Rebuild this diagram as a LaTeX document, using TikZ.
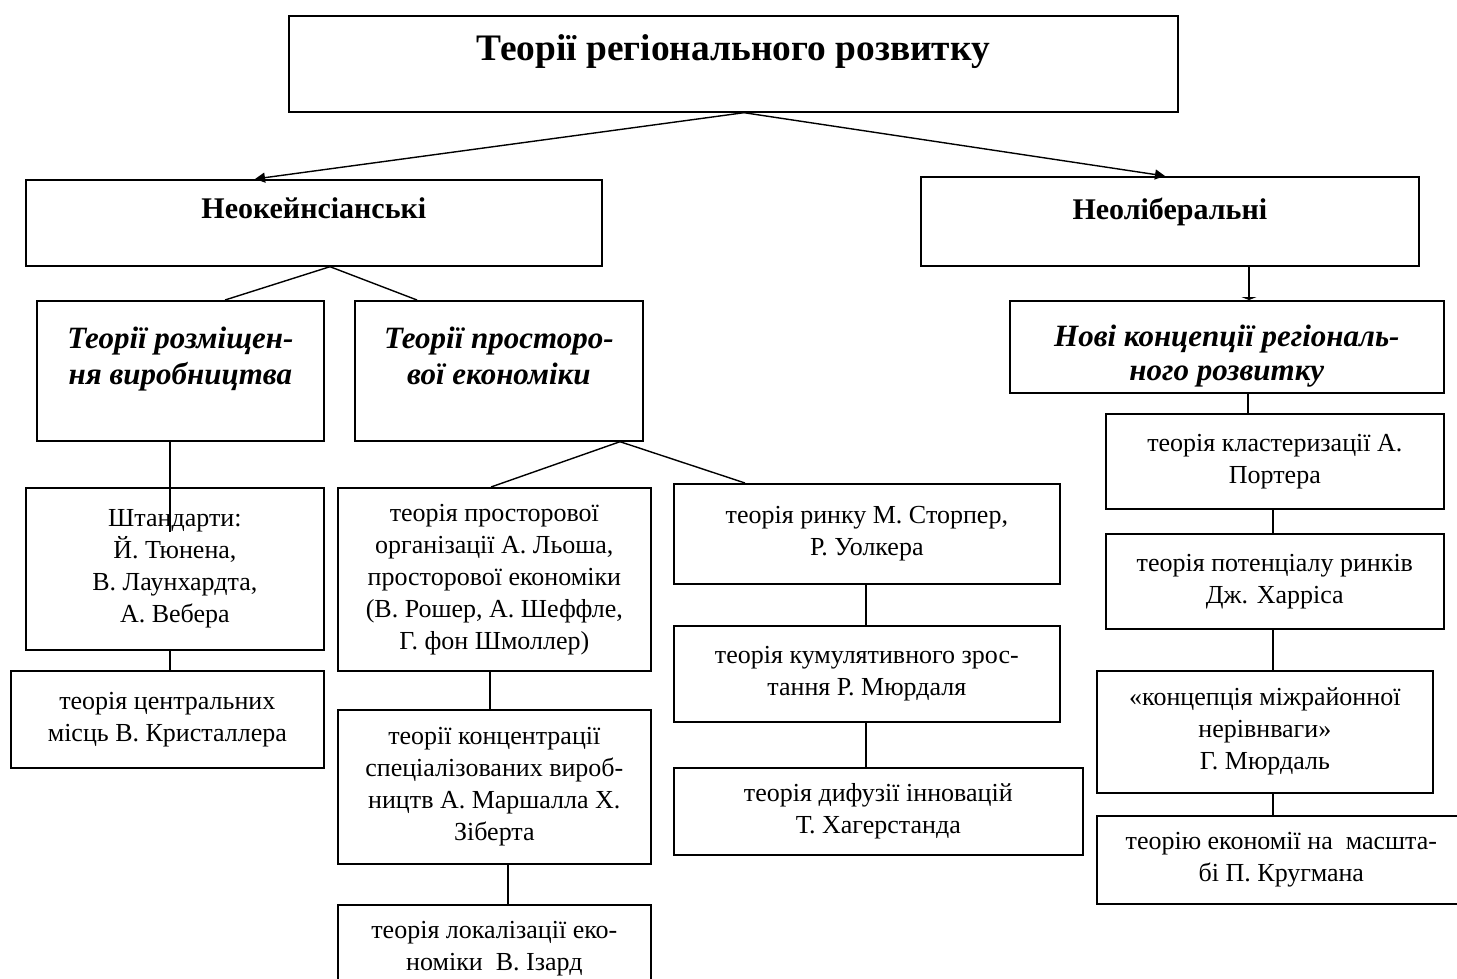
\documentclass[tikz,border=0pt]{standalone}
\usepackage{fontspec}
\setmainfont{Liberation Serif}
\usetikzlibrary{arrows.meta}
\def\pxu{0.5pt}
\tikzset{
  box/.style={draw, line width=0.85pt, anchor=north west, inner sep=0pt, align=center,
    font=\fontsize{13}{16}\selectfont},
  headbox/.style={box, font=\fontsize{15}{17}\selectfont\bfseries},
  itbox/.style={box, font=\fontsize{15.5}{18}\selectfont\bfseries\itshape},
  link/.style={line width=0.7pt},
  arrow/.style={link, -{Triangle[length=5pt,width=5pt]}},
  bararrow/.style={link, -{Triangle[length=1.5pt,width=7.5pt]}},
}
\begin{document}
\begin{tikzpicture}[x=\pxu, y=-\pxu]
\clip (0,0) rectangle (1457,979);
% headings
\node[headbox, font=\fontsize{18.7}{22}\selectfont\bfseries, minimum width=444.5pt, text height=22.5pt, text depth=25.5pt] (title) at (288,15) {Теорії регіонального розвитку};
\node[headbox, minimum width=288pt, text height=19.5pt, text depth=23.5pt] (neok) at (25,179) {Неокейнсіанські};
\node[headbox, minimum width=249pt, text height=21.5pt, text depth=23pt] (neol) at (920,176) {Неоліберальні};
\node[itbox, minimum width=143.5pt, text height=42pt, text depth=28pt] (rozm) at (36,300) {Теорії розміщен-\\ня виробництва};
\node[itbox, minimum width=144pt, text height=42pt, text depth=28pt] (prost) at (354,300) {Теорії просторо-\\вої економіки};
\node[itbox, font=\fontsize{15.5}{17}\selectfont\bfseries\itshape, minimum width=217pt, text height=40pt, text depth=6pt] (nov) at (1009,300) {Нові концепції регіональ-\\ного розвитку};
% left branch
\node[box, minimum width=149pt, minimum height=81pt] (shtand) at (25,487) {Штандарти:\\Й. Тюнена,\\В. Лаунхардта,\\А. Вебера};
\node[box, minimum width=156.5pt, minimum height=48.5pt] (centr) at (10,670) {теорія центральних\\місць В. Кристаллера};
\node[box, minimum width=156.5pt, minimum height=91.5pt] (org) at (337,487) {теорія просторової\\організації А. Льоша,\\просторової економіки\\(В. Рошер, А. Шеффле,\\Г. фон Шмоллер)};
\node[box, minimum width=156.5pt, minimum height=77pt] (konc) at (337,709) {теорії концентрації\\спеціалізованих вироб-\\ництв А. Маршалла Х.\\Зіберта};
\node[box, minimum width=156.5pt, minimum height=44pt] (lokal) at (337,904) {теорія локалізації еко-\\номіки \ В. Ізард};
\node[box, minimum width=193pt, minimum height=50pt] (rynok) at (673,483) {теорія ринку М. Сторпер,\\Р. Уолкера};
\node[box, minimum width=193pt, minimum height=48pt] (kumul) at (673,625) {теорія кумулятивного зрос-\\тання Р. Мюрдаля};
\node[box, minimum width=204.5pt, minimum height=43.5pt] (dyf) at (673,767) {теорія дифузії інновацій\\Т. Хагерстанда};
% right branch
\node[box, minimum width=169pt, minimum height=47.5pt] (klast) at (1105,413) {теорія кластеризації А.\\Портера};
\node[box, minimum width=169pt, minimum height=47.5pt] (poten) at (1105,533) {теорія потенціалу ринків\\Дж. Харріса};
\node[box, minimum width=168pt, minimum height=61pt] (mizh) at (1096,670) {«концепція міжрайонної\\нерівнваги»\\Г. Мюрдаль};
\node[box, minimum width=184.5pt, minimum height=44pt] (masht) at (1096,815) {теорію економії на \ масшта-\\бі П. Кругмана};
\coordinate (shtandmark) at (170,532);
% connectors
\draw[arrow] (744,0 |- title.south) -- (255,0 |- neok.north);
\draw[arrow] (744,0 |- title.south) -- (1165,0 |- neol.north);
\draw[bararrow] (1249,0 |- neol.south) -- (1249,0 |- nov.north);
\draw[link] (330,0 |- neok.south) -- (225,0 |- rozm.north);
\draw[link] (330,0 |- neok.south) -- (417,0 |- prost.north);
\draw[link] (170,0 |- rozm.south) -- (shtandmark);
\draw[link] (170,0 |- shtand.south) -- (170,0 |- centr.north);
\draw[link] (620,0 |- prost.south) -- (491,0 |- org.north);
\draw[link] (620,0 |- prost.south) -- (745,0 |- rynok.north);
\draw[link] (490,0 |- org.south) -- (490,0 |- konc.north);
\draw[link] (508,0 |- konc.south) -- (508,0 |- lokal.north);
\draw[link] (866,0 |- rynok.south) -- (866,0 |- kumul.north);
\draw[link] (866,0 |- kumul.south) -- (866,0 |- dyf.north);
\draw[link] (1248,0 |- nov.south) -- (1248,0 |- klast.north);
\draw[link] (1273,0 |- klast.south) -- (1273,0 |- poten.north);
\draw[link] (1273,0 |- poten.south) -- (1273,0 |- mizh.north);
\draw[link] (1273,0 |- mizh.south) -- (1273,0 |- masht.north);
\end{tikzpicture}
\end{document}
